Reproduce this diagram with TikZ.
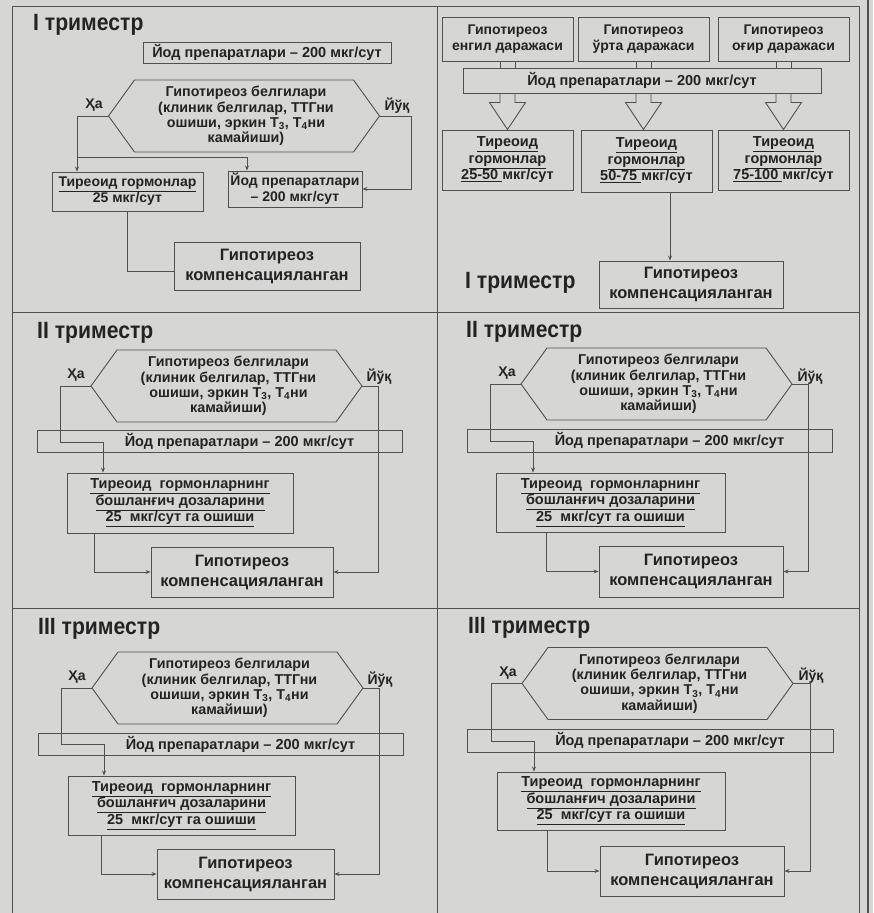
\documentclass[tikz,border=0pt]{standalone}
\usepackage{fontspec}
\setmainfont{Liberation Sans}
\newfontfamily\ttlfont[FakeStretch=0.9]{Liberation Sans}
\usetikzlibrary{arrows.meta,calc}
\definecolor{paper}{RGB}{214,214,212}
\definecolor{ink}{RGB}{80,80,80}
\definecolor{txt}{RGB}{35,35,35}
\tikzset{
 ln/.style={draw=ink, line width=0.9pt},
 arr/.style={ln, -{Stealth[length=5pt,width=4pt]}},
 box/.style={ln, rectangle, inner sep=0pt, align=center, text=txt, font=\bfseries\fontsize{14}{16}\selectfont},
 wbox/.style={box, font=\bfseries\fontsize{14.5}{16}\selectfont},
 tbox/.style={box, font=\bfseries\fontsize{14.5}{16.5}\selectfont},
 bigbox/.style={box, font=\bfseries\fontsize{16.5}{20}\selectfont},
 ttl/.style={anchor=west, inner sep=0pt, text=txt, font=\ttlfont\bfseries\fontsize{23.5}{23.5}\selectfont},
 lbl/.style={inner sep=0pt, text=txt, font=\bfseries\fontsize{14}{15}\selectfont},
 hext/.style={inner sep=0pt, align=center, text=txt, font=\bfseries\fontsize{14.3}{15.3}\selectfont},
}
\newcommand\HexaBox[3]{%
  \draw[ln] (#2-135.5,#3) -- (#2-109.5,#3-36) -- (#2+109.5,#3-36) -- (#2+135.5,#3) -- (#2+109.5,#3+36) -- (#2-109.5,#3+36) -- cycle;
  \coordinate (#1l) at (#2-135.5,#3);
  \coordinate (#1r) at (#2+135.5,#3);
  \node[hext] (#1) at (#2+2,#3) {Гипотиреоз белгилари\\(клиник белгилар, ТТГни\\ошиши, эркин Т\textsubscript{3}, Т\textsubscript{4}ни\\камайиши)};
}
\newcommand\BlkArr[3]{%
  \draw[ln] ($(#1.south)+(-7.5,0)$) -- ($(#2.north -| #1.south)+(-7.5,0)$);
  \draw[ln] ($(#1.south)+(7.5,0)$) -- ($(#2.north -| #1.south)+(7.5,0)$);
  \draw[ln] ($(#2.south -| #1.south)+(-7.5,0)$) -- ++(0,9) -- ++(-10.5,0) -- (#3.north -| #1.south) -- ($(#2.south -| #1.south)+(18,9)$) -- ++(-10.5,0) -- ++(0,-9);
}
\begin{document}
\begin{tikzpicture}[x=1pt,y=-1pt]
\fill[paper] (0,0) rectangle (873,913);
\useasboundingbox (0,0) rectangle (873,913);
% frame
\draw[ln] (12,913) -- (12,6) -- (859,6) -- (859,913);
\draw[ln] (437,6) -- (437,913);
\draw[ln] (12,312) -- (859,312);
\draw[ln] (12,608.5) -- (859,608.5);
\draw[draw=ink, line width=2pt] (868,0) -- (868,913);

% ---------- Panel 1 (top left)
\node[ttl] (t1) at (33,25) {I триместр};
\node[wbox, minimum width=248pt, minimum height=21pt] (a1) at (267,52.5) {Йод препаратлари – 200 мкг/сут};
\HexaBox{h1}{244}{116}
\node[lbl] (ha1) at (94,105) {Ҳа};
\node[lbl] (yq1) at (397,106) {Йўқ};
\node[box, minimum width=151pt, minimum height=39pt] (T1) at (127.5,191.5) {\underline{Тиреоид гормонлар}\\25 мкг/сут};
\node[box, minimum width=134pt, minimum height=36pt] (Y1) at (295,189) {Йод препаратлари\\– 200 мкг/сут};
\node[bigbox, minimum width=186pt, minimum height=48pt] (C1) at (267,266) {Гипотиреоз\\компенсацияланган};
\coordinate (j1) at (77,157);
\coordinate (j1b) at (247,157);
\draw[ln] (h1l) -| (j1) -- (j1b);
\draw[arr] (j1) -- (j1 |- T1.north);
\draw[arr] (j1b) -- (j1b |- Y1.north);
\draw[arr] (h1r) -- ++(32,0) |- (Y1.east);
\draw[ln] (T1.south) |- ($(C1.west)+(0,5)$);

% ---------- Panel 2 (top right)
\node[box, minimum width=131pt, minimum height=44pt] (G1) at (507.5,39) {Гипотиреоз\\енгил даражаси};
\node[box, minimum width=131pt, minimum height=44pt] (G2) at (643.5,39) {Гипотиреоз\\ўрта даражаси};
\node[box, minimum width=131pt, minimum height=44pt] (G3) at (783.5,39) {Гипотиреоз\\оғир даражаси};
\node[wbox, minimum width=358pt, minimum height=25pt] (W2) at (642,80.5) {Йод препаратлари – 200 мкг/сут};
\node[tbox, minimum width=131pt, minimum height=60pt] (B1) at (507.5,160) {\underline{Тиреоид}\\\underline{гормонлар}\\\underline{25-50\ }мкг/сут};
\node[tbox, minimum width=131pt, minimum height=62pt] (B2) at (646.5,161) {\underline{Тиреоид}\\\underline{гормонлар}\\\underline{50-75\ }мкг/сут};
\node[tbox, minimum width=131pt, minimum height=60pt] (B3) at (783.5,160) {\underline{Тиреоид}\\\underline{гормонлар}\\\underline{75-100\ }мкг/сут};
\BlkArr{G1}{W2}{B1}
\BlkArr{G2}{W2}{B2}
\BlkArr{G3}{W2}{B3}
\node[bigbox, minimum width=184pt, minimum height=47pt] (C2) at (691,284.5) {Гипотиреоз\\компенсацияланган};
\node[ttl] (t2) at (465,283) {I триместр};
\coordinate (k2) at (670,192);
\draw[arr] (k2) -- (k2 |- C2.north);

% ---------- Panel 3 (II left)
\node[ttl] (t3) at (37,333) {II триместр};
\HexaBox{h3}{226.5}{386}
\node[lbl] (ha3) at (76,375) {Ҳа};
\node[lbl] (yq3) at (379,377) {Йўқ};
\node[wbox, minimum width=365pt, minimum height=22pt] (W3) at (219.5,441) {\hspace*{40pt}Йод препаратлари – 200 мкг/сут};
\node[tbox, minimum width=226pt, minimum height=60pt] (T3) at (180,503) {\underline{Тиреоид\ \ гормонларнинг}\\\underline{бошланғич дозаларини}\\\underline{25\ \ мкг/сут га ошиши}};
\node[bigbox, minimum width=182pt, minimum height=50pt] (C3) at (242,572) {Гипотиреоз\\компенсацияланган};
\coordinate (p3a) at (60,442);
\coordinate (p3b) at (103,442);
\draw[ln] (h3l) -| (p3a) -- (p3b);
\draw[arr] (p3b) -- (p3b |- T3.north);
\draw[arr] (h3r) -- ++(16,0) |- (C3.east);
\draw[arr] ($(T3.south west)+(28,0)$) |- (C3.west);

% ---------- Panel 4 (II right)
\node[ttl] (t4) at (466,332) {II триместр};
\HexaBox{h4}{656.5}{384}
\node[lbl] (ha4) at (507,373) {Ҳа};
\node[lbl] (yq4) at (810,377) {Йўқ};
\node[wbox, minimum width=365pt, minimum height=23pt] (W4) at (649.5,440.5) {\hspace*{40pt}Йод препаратлари – 200 мкг/сут};
\node[tbox, minimum width=229pt, minimum height=59pt] (T4) at (610.5,502.5) {\underline{Тиреоид\ \ гормонларнинг}\\\underline{бошланғич дозаларини}\\\underline{25\ \ мкг/сут га ошиши}};
\node[bigbox, minimum width=184pt, minimum height=51pt] (C4) at (691,571.5) {Гипотиреоз\\компенсацияланган};
\coordinate (p4a) at (490,441);
\coordinate (p4b) at (533,441);
\draw[ln] (h4l) -| (p4a) -- (p4b);
\draw[arr] (p4b) -- (p4b |- T4.north);
\draw[arr] (h4r) -- ++(16,0) |- (C4.east);
\draw[arr] ($(T4.south west)+(51,0)$) |- (C4.west);

% ---------- Panel 5 (III left)
\node[ttl] (t5) at (38,629) {III триместр};
\HexaBox{h5}{227.5}{688}
\node[lbl] (ha5) at (77,677) {Ҳа};
\node[lbl] (yq5) at (380,680) {Йўқ};
\node[wbox, minimum width=365pt, minimum height=22pt] (W5) at (220.5,744) {\hspace*{40pt}Йод препаратлари – 200 мкг/сут};
\node[tbox, minimum width=227pt, minimum height=59pt] (T5) at (181.5,805.5) {\underline{Тиреоид\ \ гормонларнинг}\\\underline{бошланғич дозаларини}\\\underline{25\ \ мкг/сут га ошиши}};
\node[bigbox, minimum width=177pt, minimum height=50pt] (C5) at (245.5,874) {Гипотиреоз\\компенсацияланган};
\coordinate (p5a) at (61,744);
\coordinate (p5b) at (104,744);
\draw[ln] (h5l) -| (p5a) -- (p5b);
\draw[arr] (p5b) -- (p5b |- T5.north);
\draw[arr] (h5r) -- ++(16.5,0) |- (C5.east);
\draw[arr] ($(T5.south west)+(34,0)$) |- (C5.west);

% ---------- Panel 6 (III right)
\node[ttl] (t6) at (468,628) {III триместр};
\HexaBox{h6}{657.5}{683.5}
\node[lbl] (ha6) at (508,673) {Ҳа};
\node[lbl] (yq6) at (811,676) {Йўқ};
\node[wbox, minimum width=366pt, minimum height=23pt] (W6) at (650,740.5) {\hspace*{40pt}Йод препаратлари – 200 мкг/сут};
\node[tbox, minimum width=228pt, minimum height=58pt] (T6) at (611,801) {\underline{Тиреоид\ \ гормонларнинг}\\\underline{бошланғич дозаларини}\\\underline{25\ \ мкг/сут га ошиши}};
\node[bigbox, minimum width=184pt, minimum height=50pt] (C6) at (692,871) {Гипотиреоз\\компенсацияланган};
\coordinate (p6a) at (491,741);
\coordinate (p6b) at (534,741);
\draw[ln] (h6l) -| (p6a) -- (p6b);
\draw[arr] (p6b) -- (p6b |- T6.north);
\draw[arr] (h6r) -- ++(17.5,0) |- (C6.east);
\draw[arr] ($(T6.south west)+(51,0)$) |- (C6.west);
\end{tikzpicture}
\end{document}
